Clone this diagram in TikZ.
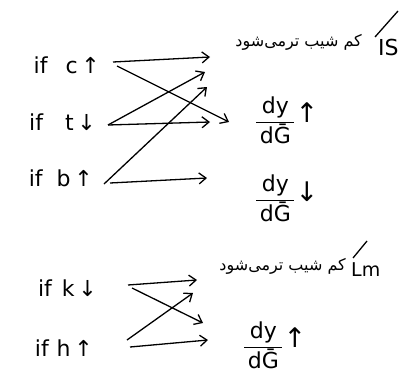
\documentclass[tikz,border=0pt]{standalone}
\usepackage{fontspec}
\setmainfont{DejaVu Sans}
\newfontfamily\fa[Script=Arabic]{DejaVu Sans}
\TeXXeTstate=1
\usetikzlibrary{arrows.meta,calc}
\tikzset{
  lbl/.style={inner sep=0pt, font=\fontsize{22}{26}\selectfont},
  small/.style={inner sep=0pt, font=\fontsize{19}{22}\selectfont},
  fatext/.style={inner sep=0pt, font=\fontsize{16}{20}\selectfont\fa},
  arr/.style={-{Straight Barb[length=7pt,width=11pt,line width=1.3pt]}, line width=1.3pt},
  slashline/.style={line width=1.3pt}
}
\newcommand{\dydg}{$\displaystyle\frac{\,\mbox{dy}\,}{\,\mbox{dḠ}\,}$}
\newcommand{\bigup}{\raisebox{5pt}{\fontsize{27}{30}\selectfont ↑}}
\newcommand{\bigdown}{\raisebox{4pt}{\fontsize{27}{30}\selectfont ↓}}
\begin{document}
\begin{tikzpicture}[x=1pt,y=-1pt]
\useasboundingbox (0,0) rectangle (420,372);
% sources
\node[lbl,anchor=east] (c1) at (100,65) {if\hspace{18pt}c\,↑};
\node[lbl,anchor=east] (t1) at (96,122) {if\hspace{22pt}t\,↓};
\node[lbl,anchor=east] (b1) at (93,178) {if\hspace{14pt}b\,↑};
\node[lbl,anchor=east] (k1) at (97,288) {if\hspace{10pt}k\,↓};
\node[lbl,anchor=east] (h1) at (93,348) {if\hspace{8pt}h\,↑};
% targets
\node[fatext,anchor=east] (fa1) at (362,42) {\beginR کم شیب ترمی‌شود\endR};
\node[lbl,anchor=west] (is) at (378,47) {IS};
\node[lbl,anchor=west] (d1) at (255,120) {\dydg\bigup};
\node[lbl,anchor=west] (d2) at (255,198) {\dydg\bigdown};
\node[fatext,anchor=east] (fa2) at (346,266) {\beginR کم شیب ترمی‌شود\endR};
\node[small,anchor=west] (lm) at (351,270) {Lm};
\node[lbl,anchor=west] (d3) at (243,345) {\dydg\bigup};
% slashes
\draw[slashline] ($(is.west)+(-3,-10)$) -- ($(is.west)+(20,-36)$);
\draw[slashline] ($(lm.west)+(2,-12)$) -- ($(lm.west)+(16,-29)$);
% group 1 connectors
\draw[arr] ($(c1.east)+(13,-3)$) -- ($(fa1.east)+(-152,15)$);
\draw[arr] ($(c1.east)+(17,1)$) -- ($(d1.west)+(-26,2)$);
\draw[arr] ($(t1.east)+(12,3)$) -- ($(fa1.east)+(-157,30)$);
\draw[arr] ($(t1.east)+(12,3)$) -- ($(d1.west)+(-45,2)$);
\draw[arr] ($(b1.east)+(11,6)$) -- ($(fa1.east)+(-155,45)$);
\draw[arr] ($(b1.east)+(17,5)$) -- ($(d2.west)+(-48,-20)$);
% group 2 connectors
\draw[arr] ($(k1.east)+(31,-3)$) -- ($(fa2.east)+(-149,14)$);
\draw[arr] ($(k1.east)+(35,0)$) -- ($(d3.west)+(-40,-22)$);
\draw[arr] ($(h1.east)+(34,-8)$) -- ($(fa2.east)+(-153,27)$);
\draw[arr] ($(h1.east)+(37,-1)$) -- ($(d3.west)+(-35,-5)$);
\end{tikzpicture}
\end{document}
